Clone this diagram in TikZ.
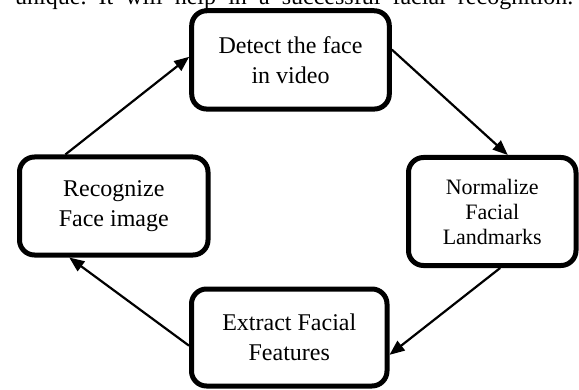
\documentclass[tikz,border=0pt]{standalone}
\usepackage{fontspec}
\setmainfont{Liberation Serif}
\usetikzlibrary{arrows.meta,calc}
\frenchspacing
\begin{document}
\begin{tikzpicture}[x=1pt,y=1pt,
  stage/.style={draw, line width=5pt, rounded corners=15pt, inner sep=0pt,
    align=center, font=\fontsize{24}{30}\selectfont},
  link/.style={line width=2.2pt, -{Triangle[length=15pt,width=12pt]}}]
\clip (0,0) rectangle (579,389);
% last line of the running text above the figure
\node[anchor=base west, inner sep=0pt, font=\fontsize{24}{29}\selectfont] (caption) at (15,384)
  {\makebox[558pt][s]{unique. It will help in a successful facial recognition.}};
% the four stages of the cycle
\node[stage, minimum width=197.6pt, minimum height=98.3pt] (detect) at (290.5,329.1)
  {Detect the face\\in video};
\node[stage, minimum width=167.5pt, minimum height=108pt, font=\fontsize{22}{25}\selectfont] (norm) at (492.25,177.5)
  {Normalize\\Facial\\Landmarks};
\node[stage, minimum width=195.5pt, minimum height=97pt] (extract) at (289.25,51.5)
  {Extract Facial\\Features};
\node[stage, minimum width=188.5pt, minimum height=98pt] (recog) at (113.75,183)
  {Recognize\\Face image};
% connectors
\draw[link] ($(recog.north west)!0.25!(recog.north east)$) -- ($(detect.north west)!0.47!(detect.south west)$);
\draw[link] ($(detect.north east)!0.4!(detect.south east)$) -- ($(norm.north west)!0.59!(norm.north east)$);
\draw[link] ($(norm.south west)!0.546!(norm.south east)$) -- ($(extract.north east)!0.67!(extract.south east)$);
\draw[link] ($(extract.north west)!0.58!(extract.south west)$) -- ($(recog.south west)!0.27!(recog.south east)$);
\end{tikzpicture}
\end{document}
